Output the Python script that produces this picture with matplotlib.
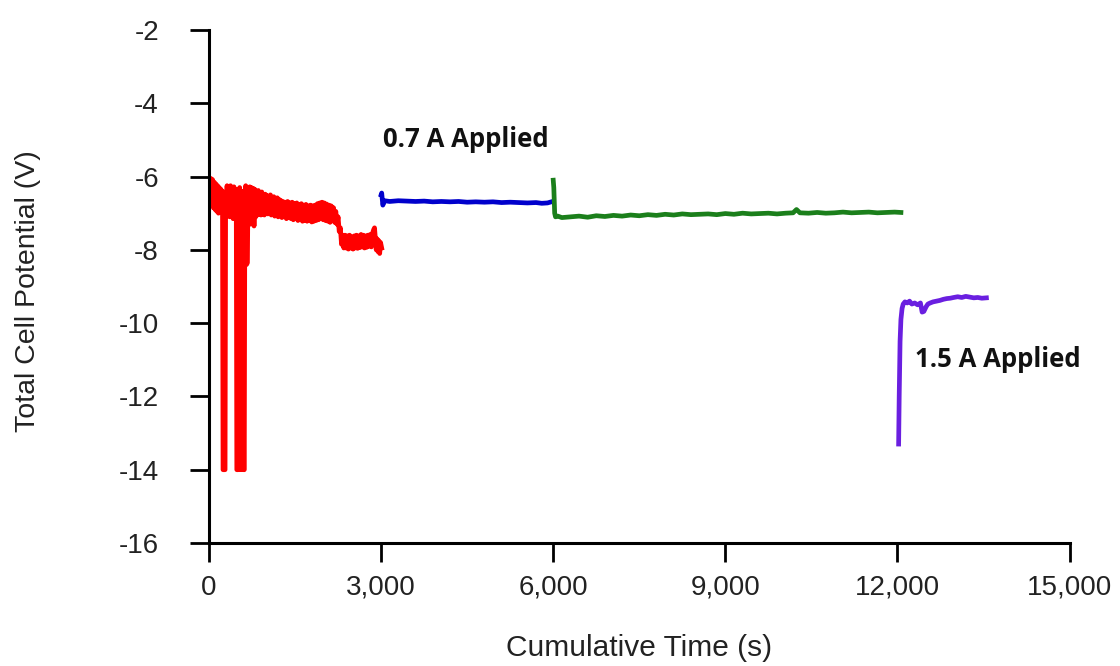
import matplotlib
matplotlib.use("Agg")
import matplotlib.pyplot as plt
from matplotlib.ticker import FuncFormatter

plt.rcParams['font.family'] = ['Liberation Sans', 'DejaVu Sans']
plt.rcParams['axes.unicode_minus'] = False

# ---------------- data ----------------
red_time = [0, 15, 30, 45, 60, 75, 90, 105, 120, 135, 150, 165, 180, 195, 210, 225,
            235, 245, 265, 280, 290, 300, 315, 330, 345, 360, 375, 390, 405, 420, 435, 450, 465,
            475, 485, 505, 520, 535, 545, 555, 565, 575, 585, 595, 605, 615, 625, 640, 655, 670,
            680, 695, 710, 725,
            740, 755, 770, 785, 800, 815, 830, 845, 860, 875, 890, 905, 920, 935, 950, 965, 980,
            995, 1010, 1025, 1040, 1055, 1070, 1085, 1100, 1115, 1130, 1145, 1160, 1175, 1190,
            1205, 1220, 1235, 1250, 1270, 1290, 1310, 1330, 1350, 1370, 1390, 1410, 1430, 1450,
            1470, 1490, 1510, 1530, 1550, 1570, 1590, 1610, 1630, 1650, 1670, 1690, 1710, 1730,
            1750, 1770, 1790, 1810, 1830, 1850, 1870, 1890, 1910, 1930, 1950, 1970, 1990, 2010,
            2030, 2050, 2070, 2090, 2110, 2130, 2150, 2170, 2190, 2210, 2230, 2250, 2270, 2290,
            2310, 2330, 2350, 2370, 2390, 2410, 2430, 2450, 2470, 2490, 2510, 2530, 2550, 2570,
            2590, 2610, 2630, 2650, 2670, 2690, 2710, 2730, 2750, 2770, 2790, 2810, 2830, 2850,
            2870, 2885, 2900, 2915, 2930, 2945, 2960, 2975, 2990, 3010]
red_volt = [-6.10, -6.75, -6.05, -6.12, -6.08, -6.85, -6.15, -6.90, -6.20, -6.95, -6.25, -7.00, -6.30, -6.95, -6.35, -6.90,
            -6.40, -14.0, -14.0, -14.0, -6.50, -7.00, -6.25, -7.05, -6.28, -7.10, -6.25, -7.00, -6.30, -7.15, -6.28, -7.05, -6.35,
            -6.40, -14.0, -14.0, -6.50, -6.30, -14.0, -6.50, -14.0, -6.40, -14.0, -6.60, -14.0, -14.0, -6.60, -6.25, -8.40, -8.35,
            -6.30, -7.20, -6.28, -7.30,
            -6.30, -7.25, -6.32, -7.35, -6.35, -7.10, -6.40, -7.05, -6.38, -7.00, -6.45, -7.05, -6.42, -7.00, -6.50, -7.05, -6.48,
            -6.98, -6.52, -7.02, -6.55, -7.00, -6.50, -7.05, -6.58, -7.00, -6.55, -7.08, -6.60, -7.05, -6.58,
            -7.10, -6.62, -7.05, -6.65, -7.12, -6.68, -7.10, -6.70, -7.15, -6.68, -7.12, -6.72, -7.15, -6.70,
            -7.18, -6.74, -7.15, -6.72, -7.20, -6.76, -7.18, -6.74, -7.22, -6.78, -7.20, -6.76, -7.22, -6.80,
            -7.20, -6.78, -7.24, -6.80, -7.22, -6.78, -7.20, -6.74, -7.18, -6.72, -7.15, -6.70, -7.18, -6.72,
            -7.20, -6.75, -7.22, -6.78, -7.25, -6.80, -7.20, -6.85, -7.25, -6.95, -7.30, -7.10, -7.50, -7.40,
            -7.85, -7.60, -7.95, -7.60, -7.95, -7.62, -7.98, -7.60, -7.95, -7.65, -7.98, -7.62, -7.95, -7.60,
            -7.96, -7.62, -7.94, -7.58, -7.92, -7.60, -7.95, -7.62, -7.93, -7.60, -7.90, -7.58, -7.92, -7.55,
            -7.45, -7.40, -7.70, -8.00, -7.70, -8.05, -7.75, -8.10, -7.80, -7.95]

blue_time = [3000, 3010, 3030, 3060, 3150, 3300, 3450, 3600, 3750, 3900, 4050, 4200, 4350, 4500,
             4650, 4800, 4950, 5100, 5250, 5400, 5550, 5700, 5800, 5900, 5990]
blue_volt = [-6.50, -6.45, -6.78, -6.66, -6.68, -6.66, -6.67, -6.68, -6.67, -6.69, -6.68, -6.69,
             -6.68, -6.70, -6.69, -6.70, -6.69, -6.71, -6.70, -6.71, -6.72, -6.71, -6.73, -6.72, -6.68]

green_time = [6000, 6010, 6025, 6040, 6080, 6150, 6300, 6450, 6600, 6750, 6900, 7050, 7200, 7350,
              7500, 7650, 7800, 7950, 8100, 8250, 8400, 8550, 8700, 8850, 9000, 9150, 9300, 9450,
              9600, 9750, 9900, 10050, 10180, 10240, 10300, 10450, 10600, 10750, 10900, 11050,
              11200, 11350, 11500, 11650, 11800, 11950, 12060]
green_volt = [-6.10, -6.30, -7.00, -7.10, -7.08, -7.12, -7.10, -7.08, -7.11, -7.07, -7.09, -7.06,
              -7.08, -7.05, -7.07, -7.04, -7.06, -7.03, -7.05, -7.02, -7.04, -7.03, -7.02, -7.04,
              -7.01, -7.03, -7.00, -7.02, -7.01, -7.00, -7.02, -7.00, -6.99, -6.90, -6.99, -7.00,
              -6.98, -7.00, -6.99, -6.97, -6.99, -6.98, -6.97, -6.99, -6.98, -6.97, -6.98]

purple_time = [12020, 12030, 12045, 12060, 12080, 12100, 12130, 12170, 12210, 12250, 12300,
               12350, 12400, 12430, 12460, 12500, 12530, 12570, 12620, 12680, 12740, 12800,
               12860, 12920, 12980, 13050, 13120, 13190, 13260, 13330, 13400, 13470, 13550]
purple_volt = [-13.30, -12.00, -10.50, -9.90, -9.60, -9.48, -9.42, -9.45, -9.40, -9.48, -9.45,
               -9.50, -9.45, -9.70, -9.68, -9.55, -9.48, -9.45, -9.42, -9.40, -9.38, -9.35,
               -9.33, -9.32, -9.30, -9.28, -9.30, -9.27, -9.29, -9.31, -9.30, -9.32, -9.31]

x_ticks = [0, 3000, 6000, 9000, 12000, 15000]
y_ticks = [-16, -14, -12, -10, -8, -6, -4, -2]

# ---------------- figure ----------------
fig = plt.figure(figsize=(11.2, 6.66), dpi=100)
ax = fig.add_axes([0.1866, 0.1847, 0.7684, 0.7703])

lw = 3.4
ax.plot(red_time, red_volt, color='#FF0000', lw=lw)
ax.plot(blue_time, blue_volt, color='#0000CC', lw=lw)
ax.plot(green_time, green_volt, color='#1B7F1B', lw=lw)
ax.plot(purple_time, purple_volt, color='#6A1FE0', lw=lw)

ax.set_xlim(0, 15000)
ax.set_ylim(-16, -2)
ax.set_xticks(x_ticks)
ax.set_yticks(y_ticks)
ax.xaxis.set_major_formatter(FuncFormatter(lambda v, p: f"{int(v):,}"))

for s in ['top', 'right']:
    ax.spines[s].set_visible(False)
for s in ['left', 'bottom']:
    ax.spines[s].set_linewidth(2.2)
ax.tick_params(axis='both', direction='out', length=14, width=2.0, labelsize=20, colors='black')
ax.tick_params(axis='x', pad=9)
ax.tick_params(axis='y', pad=22)
for lab in ax.get_xticklabels() + ax.get_yticklabels():
    lab.set_color('#222222')

ax.set_xlabel('Cumulative Time (s)', fontsize=21.5, color='#222222')
ax.set_ylabel('Total Cell Potential (V)', fontsize=20.5, color='#222222')
ax.xaxis.set_label_coords(0.5, -0.178)
ax.yaxis.set_label_coords(-0.195, 0.49)

ax.text(3030, -5.19, '0.7 A Applied', fontsize=18.5, fontweight='bold', family='Open Sans',
        va='baseline', ha='left', color='#111111')
ax.text(12300, -11.2, '1.5 A Applied', fontsize=18.5, fontweight='bold', family='Open Sans',
        va='baseline', ha='left', color='#111111')

fig.savefig('out.png', dpi=100)
